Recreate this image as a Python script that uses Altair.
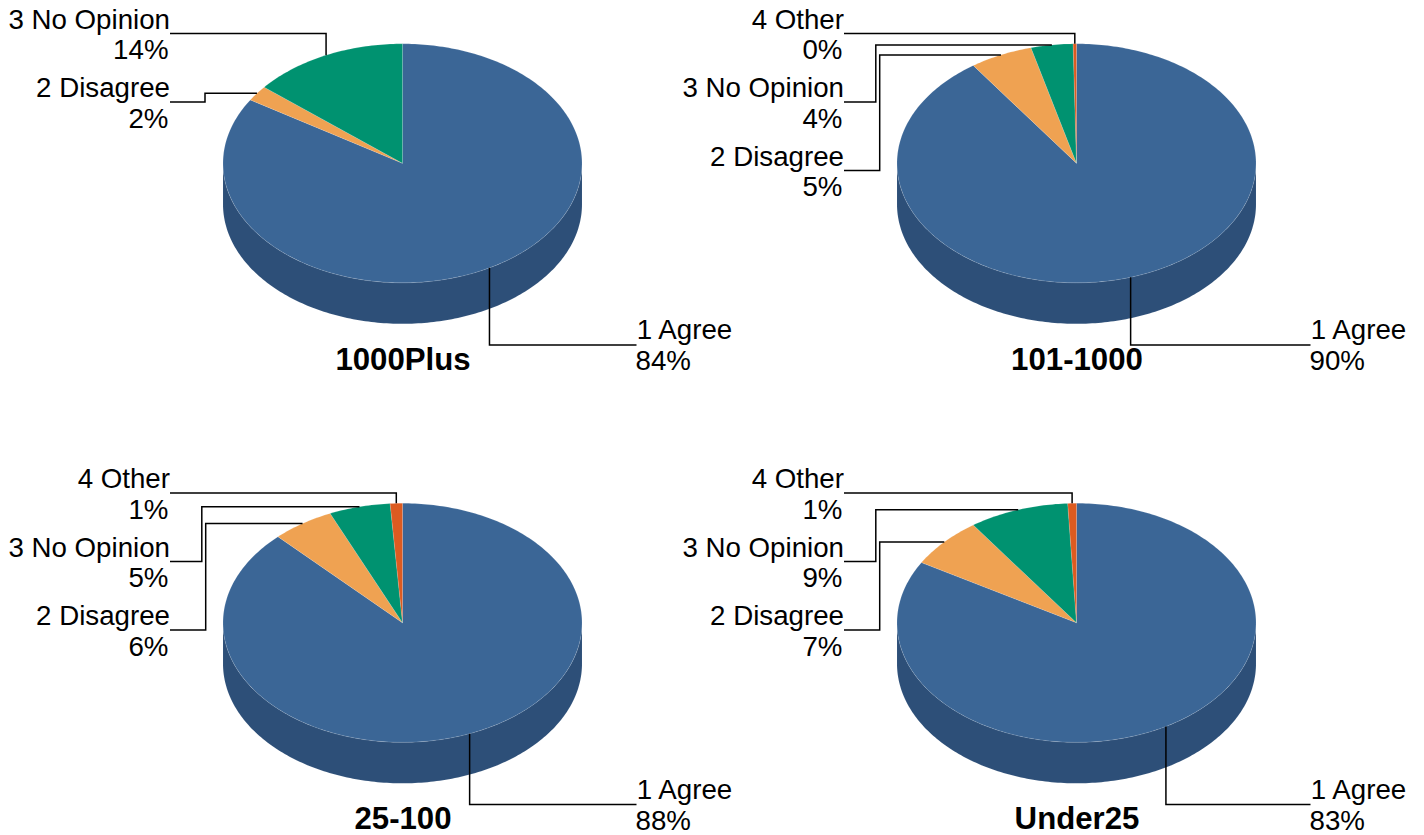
import numpy as np
import altair as alt

# ---- data ----
panels = ["1000Plus", "101-1000", "25-100", "Under25"]
categories = ["1 Agree", "2 Disagree", "3 No Opinion", "4 Other"]
colors = ["#3b6696", "#efa252", "#009270", "#dd5b20"]
side_color = "#2d4f78"

agree_values = [83.90, 90.25, 87.80, 83.40]
disagree_values = [2.10, 5.67, 5.60, 6.85]
noopinion_values = [14.00, 3.78, 5.50, 8.97]
other_values = [0.0, 0.30, 1.10, 0.78]

agree_labels = ["84%", "90%", "88%", "83%"]
disagree_labels = ["2%", "5%", "6%", "7%"]
noopinion_labels = ["14%", "4%", "5%", "9%"]
other_labels = [None, "0%", "1%", "1%"]

# ---- layout ----
CX, CY, RX, RY, DEPTH = 402.5, 163.3, 179.5, 119.5, 41.0
STEP_X, STEP_Y = 674.0, 459.5
LABEL_RIGHT = 170.0
AGREE_LEFT = 636.5
AGREE_Y = 345.0
SLOT_Y = [33.5, 102.0, 170.5]
ELBOW = {"1000Plus": {"2 Disagree": 205.0}}
ELBOW_DEFAULT = {"2 Disagree": 205.7, "3 No Opinion": 201.8}
FONT = "Liberation Sans"
LABEL_SIZE = 27.7
TITLE_SIZE = 31.2
LEADING = 30.3


def pt(cx, cy, pct):
    """Point on the top ellipse, pct measured clockwise from 12 o'clock."""
    t = np.radians(pct * 3.6)
    return [float(cx + RX * np.sin(t)), float(cy - RY * np.cos(t))]


slices, sides, leaders, texts = [], [], [], []
for i, name in enumerate(panels):
    ox, oy = STEP_X * (i % 2), STEP_Y * (i // 2)
    cx, cy = CX + ox, CY + oy
    vals = [agree_values[i], disagree_values[i], noopinion_values[i], other_values[i]]
    pcts = [agree_labels[i], disagree_labels[i], noopinion_labels[i], other_labels[i]]

    # wall of the disc: front half only
    front = [pt(cx, cy, p) for p in np.linspace(25, 75, 181)]
    ring = front + [[x, y + DEPTH] for x, y in reversed(front)] + [front[0]]
    sides.append({"type": "Feature", "properties": {"panel": name},
                  "geometry": {"type": "Polygon", "coordinates": [ring]}})

    # number of labels on the left tells which slot each one takes
    left = [j for j in (3, 2, 1) if pcts[j] is not None]
    start = 0.0
    for j, (cat, v) in enumerate(zip(categories, vals)):
        if v <= 0:
            continue
        end = start + v
        n = max(2, int(v * 3.6) + 2)
        arc = [pt(cx, cy, p) for p in np.linspace(start, end, n)]
        ring = [[cx, cy]] + arc + [[cx, cy]]
        slices.append({"type": "Feature", "properties": {"panel": name, "cat": cat},
                       "geometry": {"type": "Polygon", "coordinates": [ring]}})
        ax, ay = pt(cx, cy, (start + end) / 2)
        if j == 0:
            ly = AGREE_Y + oy
            route = [[ax, ay], [ax, ly], [AGREE_LEFT + ox, ly]]
            texts.append({"x": AGREE_LEFT + ox + 0.3, "y": ly - 6, "t": cat, "side": "l"})
            texts.append({"x": AGREE_LEFT + ox - 1, "y": ly + LEADING - 5.3, "t": pcts[j], "side": "l"})
        else:
            ly = SLOT_Y[left.index(j)] + oy
            lx = LABEL_RIGHT + ox
            elbow = ELBOW.get(name, {}).get(cat, ELBOW_DEFAULT.get(cat))
            if cat == "4 Other" or (name == "1000Plus" and cat == "3 No Opinion"):
                route = [[lx, ly], [ax, ly], [ax, ay]]
            else:
                route = [[lx, ly], [elbow + ox, ly], [elbow + ox, ay], [ax, ay]]
            texts.append({"x": lx, "y": ly - 4.9, "t": cat, "side": "r"})
            texts.append({"x": lx - 1.5, "y": ly + LEADING - 4.8, "t": pcts[j], "side": "r"})
        leaders.append({"type": "Feature", "properties": {"panel": name, "cat": cat},
                        "geometry": {"type": "LineString", "coordinates": route}})
        start = end
    texts.append({"x": cx + 0.5, "y": 369.5 + oy, "t": name, "side": "title"})

proj = dict(type="identity", scale=1, translate=[-8, -8])

side_layer = (
    alt.Chart(alt.Data(values=sides))
    .mark_geoshape(fill=side_color, stroke="#ffffff", strokeWidth=0.3, strokeOpacity=0.2)
    .project(**proj)
)
slice_layer = (
    alt.Chart(alt.Data(values=slices))
    .mark_geoshape(stroke="#ffffff", strokeWidth=0.5, strokeOpacity=0.25)
    .encode(color=alt.Color("properties.cat:N",
                            scale=alt.Scale(domain=categories, range=colors), legend=None))
    .project(**proj)
)
leader_layer = (
    alt.Chart(alt.Data(values=leaders))
    .mark_geoshape(filled=False, stroke="#000000", strokeWidth=1.5)
    .project(**proj)
)


def text_layer(side, **mark):
    return (
        alt.Chart(alt.Data(values=[d for d in texts if d["side"] == side]))
        .mark_text(font=FONT, color="#000000", baseline="alphabetic", **mark)
        .encode(longitude="x:Q", latitude="y:Q", text="t:N")
        .project(**proj)
    )


chart = alt.layer(
    side_layer,
    slice_layer,
    leader_layer,
    text_layer("r", align="right", fontSize=LABEL_SIZE),
    text_layer("l", align="left", fontSize=LABEL_SIZE),
    text_layer("title", align="center", fontSize=TITLE_SIZE, fontWeight="bold"),
).properties(
    width=1408, height=827, padding=0,
    autosize=alt.AutoSizeParams(type="none"),
    background="#ffffff",
).configure_view(stroke=None)

chart.save("out.html", embed_options={"renderer": "svg", "actions": False})
